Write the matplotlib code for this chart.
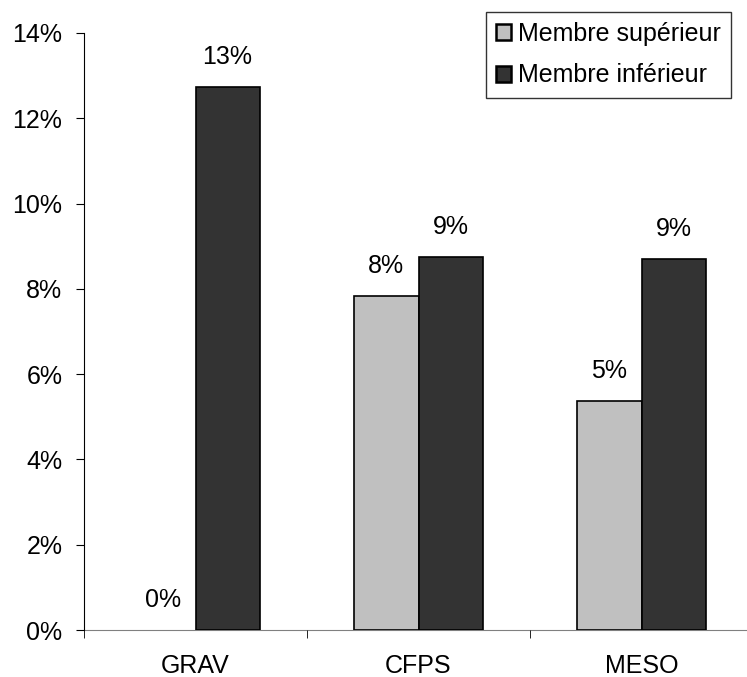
import numpy as np
import matplotlib
matplotlib.use("Agg")
import matplotlib.pyplot as plt

categories = ["GRAV", "CFPS", "MESO"]
superieur = [0.0, 7.84, 5.37]
inferieur = [12.74, 8.74, 8.70]
series_names = ["Membre supérieur", "Membre inférieur"]

plt.rcParams['font.family'] = ['Liberation Sans', 'DejaVu Sans']

fig = plt.figure(figsize=(7.47, 6.77), dpi=100)
ax = fig.add_axes([84/747, 1-630/677, (753-84)/747, (630-33)/677])

x = np.arange(len(categories))
w = 0.288
b1 = ax.bar(x - w/2, superieur, w, color="#c0c0c0", edgecolor="black", linewidth=1.2, label=series_names[0])
b2 = ax.bar(x + w/2, inferieur, w, color="#333333", edgecolor="black", linewidth=1.2, label=series_names[1])

leg = ax.legend(loc="upper right", bbox_to_anchor=(731/747, 1-12/677), bbox_transform=fig.transFigure,
                fontsize=18, frameon=True, fancybox=False, edgecolor="black",
                handlelength=0.6, handleheight=0.6, handletextpad=0.3,
                borderpad=0.4, labelspacing=0.7, borderaxespad=0)
leg.get_frame().set_linewidth(1.0)
for h in leg.legend_handles:
    h.set_linewidth(1.8)

for bars, vals in ((b1, superieur), (b2, inferieur)):
    for r, v in zip(bars, vals):
        if v == 0:
            r.set_linewidth(0)
        ax.text(r.get_x() + r.get_width()/2, v + 0.42, "%d%%" % round(v),
                ha="center", va="bottom", fontsize=18)

ax.set_xlim(-0.5, 2.5)
ax.set_ylim(0, 14)
ax.set_yticks(np.arange(0, 15, 2))
ax.set_yticklabels(["%d%%" % t for t in range(0, 15, 2)])
ax.set_xticks(x)
ax.set_xticklabels(categories)
ax.set_xticks([-0.5, 0.5, 1.5, 2.5], minor=True)
ax.tick_params(axis="x", which="major", length=0, pad=17, labelsize=18)
ax.tick_params(axis="x", which="minor", length=5.5, direction="out", color="black")
ax.tick_params(axis="y", length=5.5, direction="out", labelsize=18, pad=10)

for s in ("top", "right"):
    ax.spines[s].set_visible(False)
ax.spines["left"].set_color("black")
ax.spines["bottom"].set_color("#808080")
ax.spines["bottom"].set_zorder(0.5)

fig.savefig("out.png", dpi=100)
